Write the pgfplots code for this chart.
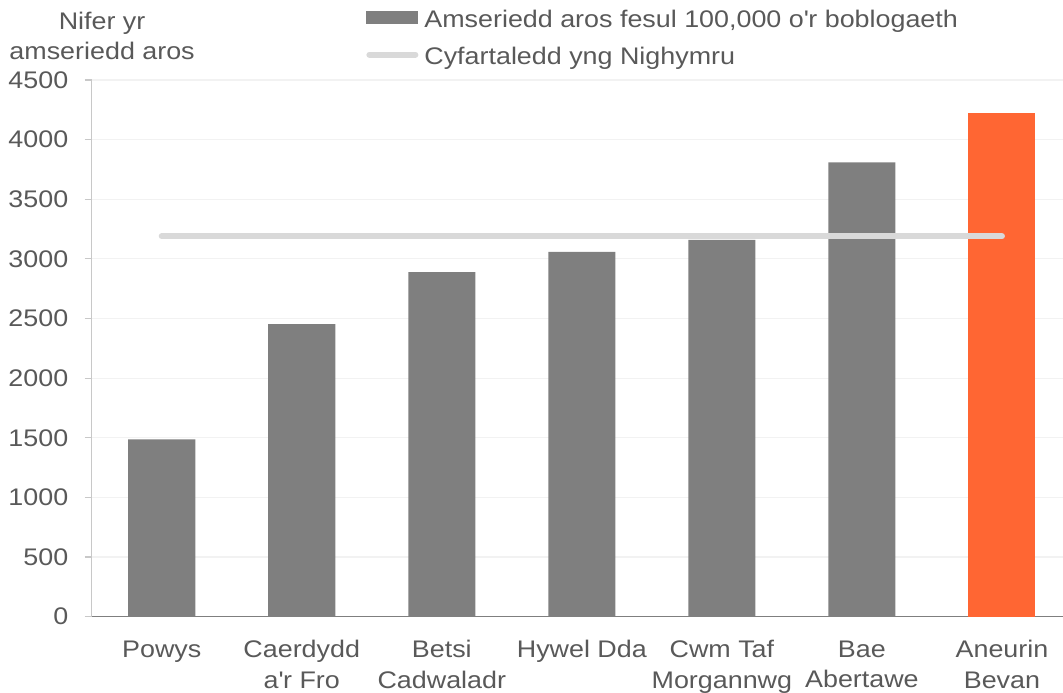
\documentclass[border=0pt]{standalone}
\usepackage{pgfplots}
\pgfplotsset{compat=1.18}
\usepackage{fontspec}
\setmainfont{Liberation Sans}[FakeStretch=1.12]
\definecolor{bargray}{HTML}{7F7F7F}
\definecolor{barorange}{HTML}{FF6633}
\definecolor{avgline}{HTML}{D9D9D9}
\definecolor{txt}{HTML}{595959}
\definecolor{gridc}{HTML}{F2F2F2}
\definecolor{yaxisc}{HTML}{C8C8C8}

\begin{document}
\begin{tikzpicture}
\begin{axis}[
  name=ax,
  scale only axis,
  width=485.65pt, height=268.35pt,
  xmin=-0.5, xmax=6.436,
  ymin=0, ymax=4500,
  ytick={0,500,...,4500},
  xtick={0,...,6},
  xticklabels={Powys, Caerdydd\\a\textquotesingle r Fro, Betsi\\Cadwaladr, Hywel Dda, Cwm Taf\\Morgannwg, Bae\\Abertawe, Aneurin\\Bevan},
  xticklabel style={align=center, anchor=north, inner sep=0pt, yshift=-8.2pt,
    font=\fontsize{12}{15.2}\selectfont, text=txt},
  yticklabel style={anchor=east, inner sep=0pt, xshift=-8pt,
    font=\fontsize{12}{14}\selectfont, text=txt},
  /pgf/number format/assume math mode=true,
  /pgf/number format/1000 sep={},
  axis lines*=left,
  axis line style={-},
  x axis line style={draw=bargray, line width=0.6pt},
  y axis line style={draw=yaxisc, line width=0.6pt},
  tick align=outside,
  xtick style={draw=none},
  ytick style={draw=yaxisc, line width=0.6pt},
  major tick length=3.5pt,
  ymajorgrids,
  grid style={draw=gridc, line width=0.6pt},
  legend cell align=left,
  legend style={at={(0.2824,1.133)}, anchor=north west, draw=none, fill=none,
    inner sep=0pt, row sep=6.85pt, column sep=3pt,
    nodes={inner sep=0pt, text height=9pt, text depth=3pt, text=txt,
      font=\fontsize{12}{14}\selectfont}},
  clip=false,
]
\addplot[ybar, bar width=0.479, bar shift=0pt, fill=bargray, draw=none,
  legend image code/.code={\fill[bargray] (0pt,-1.6pt) rectangle (26pt,5.1pt);}]
  coordinates {(0,1487) (1,2454) (2,2890) (3,3058) (4,3160) (5,3810)};
\addlegendentry{Amseriedd aros fesul 100,000 o\textquotesingle r boblogaeth}
\addplot[ybar, bar width=0.479, bar shift=0pt, fill=barorange, draw=none, forget plot]
  coordinates {(6,4221)};
\addplot[avgline, line width=3pt, line cap=round, mark=none,
  legend image code/.code={\draw[avgline, line width=3pt, line cap=round] (1.5pt,2pt) -- (24.5pt,2pt);}]
  coordinates {(0,3189) (6,3189)};
\addlegendentry{Cyfartaledd yng Nighymru}
\end{axis}
\node[anchor=base, text=txt, font=\fontsize{12}{14}\selectfont, inner sep=0pt]
  at ([xshift=5.2pt, yshift=25.35pt]ax.north west) {Nifer yr};
\node[anchor=base, text=txt, font=\fontsize{12}{14}\selectfont, inner sep=0pt]
  at ([xshift=5.2pt, yshift=10pt]ax.north west) {amseriedd aros};
\pgfresetboundingbox
\path[use as bounding box] ([xshift=-45.85pt, yshift=-38.15pt]ax.south west)
  rectangle ([yshift=40pt]ax.north east);
\end{tikzpicture}
\end{document}
